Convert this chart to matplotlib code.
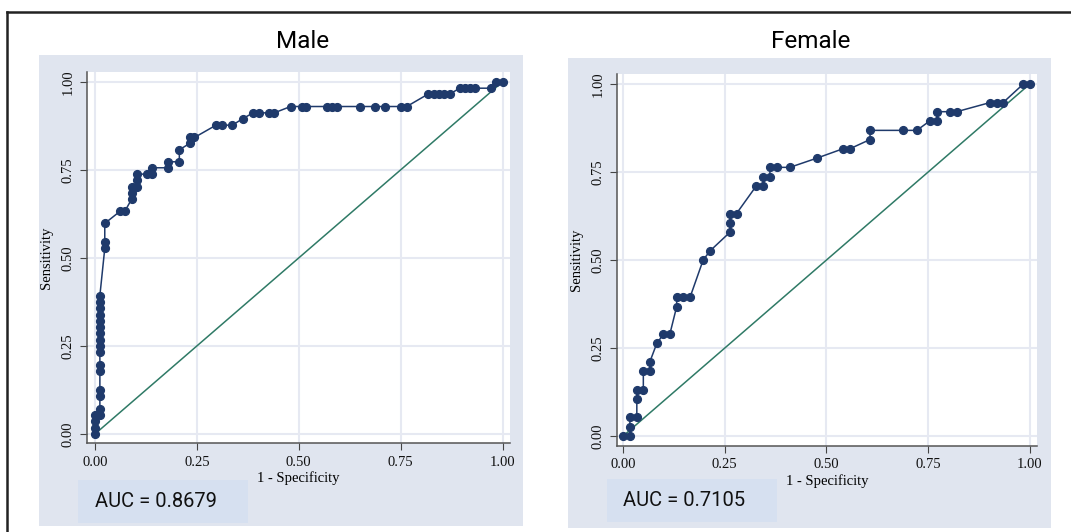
import matplotlib
matplotlib.use("Agg")
import matplotlib.pyplot as plt
from matplotlib.patches import Rectangle
from matplotlib.lines import Line2D

# ROC points (1 - specificity, sensitivity)
male_fpr = [0, 0, 0, 0,
            0.012, 0.012, 0.012, 0.012, 0.012, 0.012, 0.012, 0.012, 0.012, 0.012,
            0.012, 0.012, 0.012, 0.012, 0.012, 0.012,
            0.024, 0.024, 0.024,
            0.061, 0.073,
            0.090, 0.090, 0.090,
            0.104, 0.104, 0.104,
            0.128, 0.140, 0.140,
            0.180, 0.180,
            0.207, 0.207,
            0.232, 0.232, 0.244,
            0.297, 0.311, 0.337,
            0.362,
            0.388, 0.402, 0.427, 0.440,
            0.480, 0.507, 0.519, 0.569, 0.582, 0.595, 0.650, 0.687, 0.712, 0.752, 0.765,
            0.817, 0.831, 0.844, 0.857, 0.870,
            0.895, 0.909, 0.921, 0.933, 0.972,
            0.985, 1.0]
male_tpr = [0, 0.018, 0.036, 0.054,
            0.054, 0.071, 0.107, 0.125, 0.179, 0.196, 0.232, 0.250, 0.268, 0.286,
            0.304, 0.321, 0.339, 0.357, 0.375, 0.393,
            0.527, 0.545, 0.598,
            0.632, 0.632,
            0.667, 0.684, 0.702,
            0.702, 0.720, 0.738,
            0.738, 0.738, 0.756,
            0.756, 0.773,
            0.773, 0.807,
            0.825, 0.842, 0.842,
            0.877, 0.877, 0.877,
            0.895,
            0.912, 0.912, 0.912, 0.912,
            0.930, 0.930, 0.930, 0.930, 0.930, 0.930, 0.930, 0.930, 0.930, 0.930, 0.930,
            0.965, 0.965, 0.965, 0.965, 0.965,
            0.982, 0.982, 0.982, 0.982, 0.982,
            1.0, 1.0]

female_fpr = [0, 0.017, 0.017, 0.017, 0.034, 0.034, 0.034, 0.050, 0.050, 0.066,
              0.066, 0.083, 0.099, 0.115, 0.132, 0.132, 0.148, 0.165, 0.197, 0.214,
              0.263, 0.263, 0.263, 0.279, 0.328, 0.345, 0.345, 0.361, 0.361, 0.378,
              0.410, 0.476, 0.541, 0.558, 0.607, 0.607, 0.689, 0.722, 0.754, 0.771,
              0.771, 0.803, 0.820, 0.902, 0.918, 0.934, 0.984, 1.0]
female_tpr = [0, 0, 0.026, 0.053, 0.053, 0.105, 0.132, 0.132, 0.184, 0.184,
              0.211, 0.263, 0.289, 0.289, 0.368, 0.395, 0.395, 0.395, 0.500, 0.526,
              0.579, 0.605, 0.632, 0.632, 0.711, 0.711, 0.737, 0.737, 0.763, 0.763,
              0.763, 0.789, 0.816, 0.816, 0.842, 0.868, 0.868, 0.868, 0.895, 0.895,
              0.921, 0.921, 0.921, 0.947, 0.947, 0.947, 1.0, 1.0]

titles = ["Male", "Female"]
auc_values = [0.8679, 0.7105]
ticks = [0, 0.25, 0.5, 0.75, 1.0]
tick_labels = ["0.00", "0.25", "0.50", "0.75", "1.00"]

W, H = 1071, 532
BG = "#e0e5ef"
BOX = "#d6e0f0"
NAVY = "#1f3a6b"
GREEN = "#2f7a66"
GRID = "#e6e9f2"
SERIF = "Liberation Serif"
SANS = ["Roboto", "DejaVu Sans"]


def fx(px):
    return px / W


def fy(py):
    return 1 - py / H


fig = plt.figure(figsize=(W / 100, H / 100), dpi=100)
fig.patch.set_facecolor("white")

# outer frame (top and left only)
fig.add_artist(Line2D([fx(7), 1], [fy(12), fy(12)], color="#222222", lw=1.8))
fig.add_artist(Line2D([fx(7), fx(7)], [fy(12), 0], color="#222222", lw=1.8))

panels = [
    dict(bg=(39, 55, 523, 526), ax=(87, 72, 510, 443), xlim=(-0.0196, 1.0184),
         ylim=(-0.0256, 1.028), tx=303, box=(78, 480, 248, 523), atx=95, lab=46),
    dict(bg=(568, 58, 1051, 528), ax=(617, 74, 1037, 446), xlim=(-0.0147, 1.0172),
         ylim=(-0.028, 1.028), tx=811, box=(607, 479, 777, 522), atx=623, lab=576),
]
data = [(male_fpr, male_tpr), (female_fpr, female_tpr)]

for p, (xs, ys), title, auc in zip(panels, data, titles, auc_values):
    x0, y0, x1, y1 = p["bg"]
    fig.add_artist(Rectangle((fx(x0), fy(y1)), fx(x1 - x0), (y1 - y0) / H,
                             transform=fig.transFigure, facecolor=BG,
                             edgecolor="none", zorder=0))
    b0, c0, b1, c1 = p["box"]
    fig.add_artist(Rectangle((fx(b0), fy(c1)), fx(b1 - b0), (c1 - c0) / H,
                             transform=fig.transFigure, facecolor=BOX,
                             edgecolor="none", zorder=1))
    fig.text(fx(p["atx"]), fy((c0 + c1) / 2), f"AUC = {auc:.4f}",
             fontsize=14.5, family=SANS, va="center",
             ha="left", color="#111111", zorder=2)
    fig.text(fx(p["tx"]), fy(41), title, fontsize=17.5, family=SANS,
             ha="center", va="center", color="#000000")

    a0, d0, a1, d1 = p["ax"]
    ax = fig.add_axes([fx(a0), fy(d1), fx(a1 - a0), (d1 - d0) / H])
    ax.set_facecolor("white")
    ax.set_xlim(*p["xlim"])
    ax.set_ylim(*p["ylim"])

    ax.plot([0, 1], [0, 1], color=GREEN, lw=1.1, zorder=2)
    ax.plot(xs, ys, color=NAVY, lw=1.1, marker="o", markersize=5.6,
            markerfacecolor=NAVY, markeredgecolor=NAVY, zorder=3)

    ax.set_xticks(ticks)
    ax.set_yticks(ticks)
    ax.set_xticklabels(tick_labels, family=SERIF, fontsize=10.5)
    ax.set_yticklabels(tick_labels, family=SERIF, fontsize=10.5,
                       rotation=90, va="center")
    ax.grid(True, color=GRID, lw=1.5)
    ax.set_axisbelow(True)
    ax.tick_params(direction="out", length=5, width=0.8, color="#444444",
                   labelcolor="#111111", pad=4)
    for side in ["top", "right"]:
        ax.spines[side].set_visible(False)
    for side in ["left", "bottom"]:
        ax.spines[side].set_color("#555555")
        ax.spines[side].set_linewidth(1.1)

    ax.set_xlabel("1 - Specificity", family=SERIF, fontsize=10.5, labelpad=2)
    fig.text(fx(p["lab"]), (fy(d0) + fy(d1)) / 2, "Sensitivity", family=SERIF,
             fontsize=10.5, rotation=90, ha="center", va="center")

fig.savefig("out.png", dpi=100, facecolor="white")
